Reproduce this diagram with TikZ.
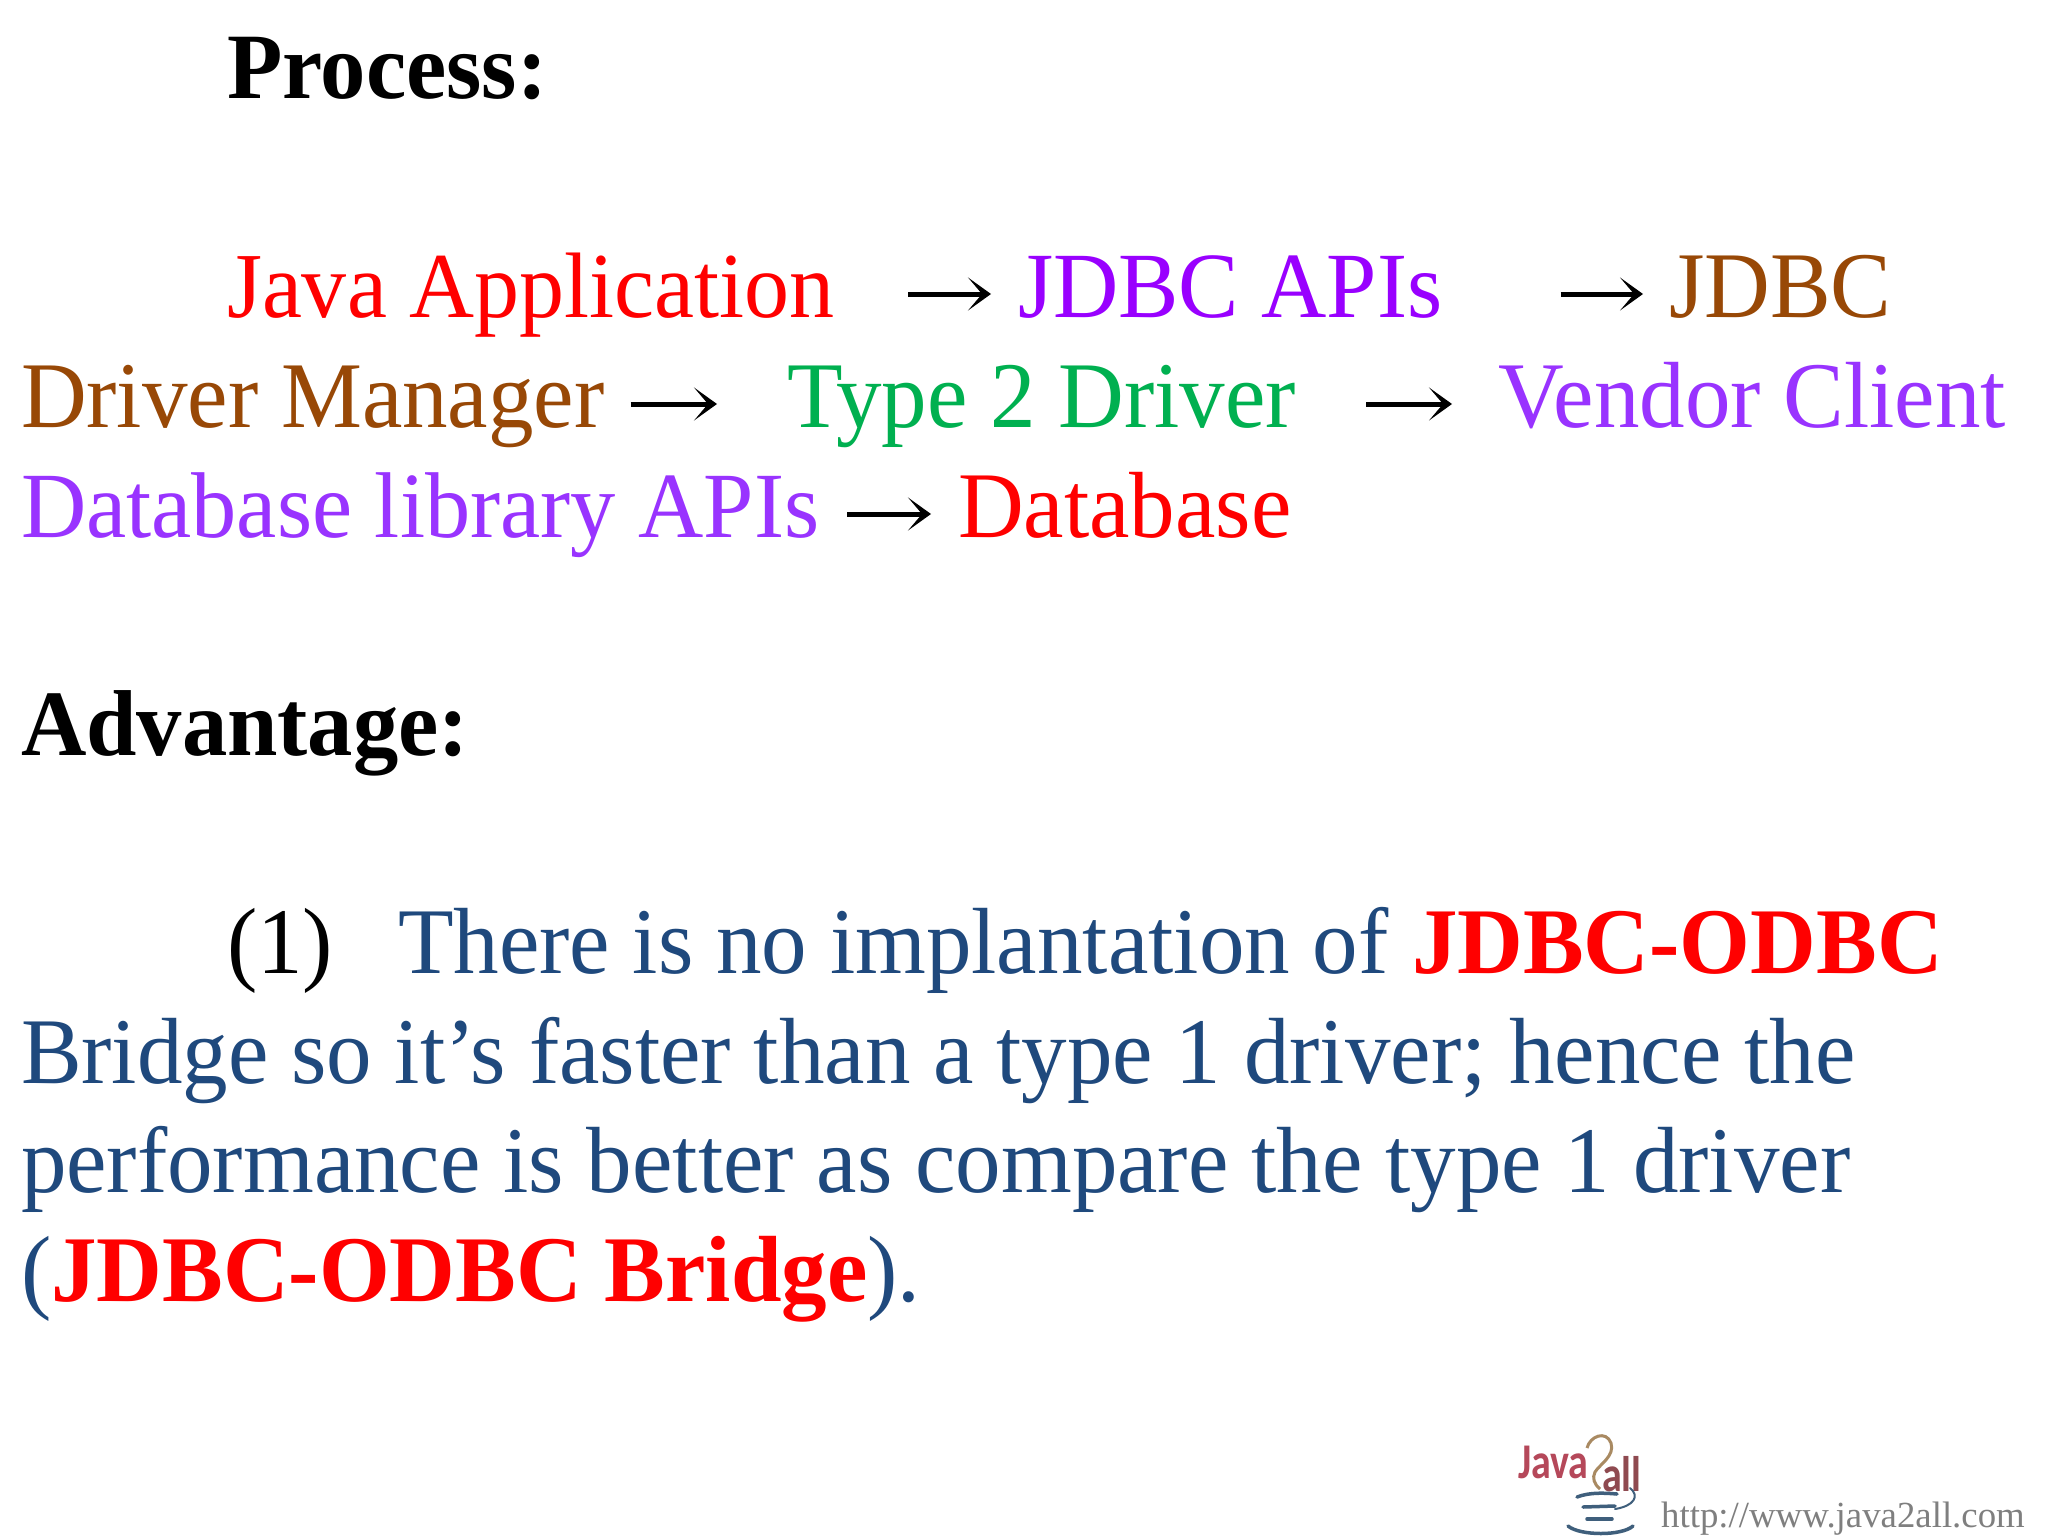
\documentclass[tikz,border=0pt]{standalone}
\usepackage{fontspec}
\usetikzlibrary{arrows.meta}
\setmainfont[FakeStretch=0.968]{Liberation Serif}
\newfontfamily\urlfont{Liberation Serif}
\newfontfamily\logofont[FakeStretch=0.8]{Carlito}
\definecolor{cred}{HTML}{FF0000}
\definecolor{cviolet}{HTML}{9900FF}
\definecolor{cpurple}{HTML}{9933FF}
\definecolor{cbrown}{HTML}{984806}
\definecolor{cgreen}{HTML}{00B050}
\definecolor{cblue}{HTML}{1F497D}
\definecolor{cgrey}{HTML}{7F7F7F}
\definecolor{clogored}{HTML}{B5485A}
\definecolor{clogodark}{HTML}{8F4A50}
\definecolor{clogoblue}{HTML}{3F5F7C}
\definecolor{clogotan}{HTML}{A98A62}
\tikzset{
  txt/.style={anchor=base west,inner sep=0pt,outer sep=0pt,font=\fontsize{94}{110}\selectfont},
  txta/.style={txt,font=\fontsize{93.4}{110}\selectfont},
  head/.style={txt,font=\fontsize{93.6}{110}\selectfont\bfseries,text=black},
  flow/.style={draw=black,line width=5pt,-{Stealth[length=23pt,width=33pt,inset=14pt]}},
  url/.style={anchor=base west,inner sep=0pt,font=\urlfont\fontsize{36.8}{40}\selectfont,text=cgrey},
  logotxt/.style={anchor=base west,inner sep=0pt,outer sep=0pt,font=\logofont\bfseries\fontsize{50}{50}\selectfont,text=clogored},
  cup/.style={draw=clogoblue,line width=3.5pt,line cap=round},
}
\begin{document}
\begin{tikzpicture}[x=1pt,y=-1pt]
\useasboundingbox (0,0) rectangle (2048,1536);
\fill[white] (0,0) rectangle (2048,1536);
\node[head] (process) at (227,99) {Process:};
\node[txt,font=\fontsize{93}{110}\selectfont,text=cred] (javaapp) at (227,317) {Java Application};
\node[txta,text=cviolet] (apis) at (1018,317) {JDBC APIs};
\node[txt,text=cbrown] (jdbc) at (1669,317) {JDBC};
\node[txt,text=cbrown] (dm) at (21,427) {Driver Manager};
\node[txt,text=cgreen] (t2) at (787,427) {Type 2 Driver};
\node[txt,text=cpurple] (vc) at (1498,427) {Vendor Client};
\node[txta,text=cpurple] (dl) at (21,537) {Database library APIs};
\node[txt,text=cred] (db) at (958,537) {Database};
\draw[flow] ([xshift=74pt,yshift=23pt]javaapp.base east) -- ([xshift=-27pt,yshift=23pt]apis.base west);
\draw[flow] ([xshift=118pt,yshift=23pt]apis.base east) -- ([xshift=-26pt,yshift=23pt]jdbc.base west);
\draw[flow] ([xshift=26pt,yshift=23pt]dm.base east) -- ([xshift=-70pt,yshift=23pt]t2.base west);
\draw[flow] ([xshift=70pt,yshift=23pt]t2.base east) -- ([xshift=-46pt,yshift=23pt]vc.base west);
\draw[flow] ([xshift=28pt,yshift=23pt]dl.base east) -- ([xshift=-27pt,yshift=23pt]db.base west);
\node[head] (adv) at (21,755) {Advantage:};
\node[txt,text=black] (one) at (227,973) {(1)};
\node[txt,text=cblue] (p1) at (398,973) {There is no implantation of};
\node[txt,text=cred,font=\fontsize{94}{110}\selectfont\bfseries] (p1b) at (1412,973) {JDBC-ODBC};
\node[txt,text=cblue] (p2) at (21,1083) {Bridge so it’s faster than a type 1 driver; hence the};
\node[txt,text=cblue] (p3) at (21,1192) {performance is better as compare the type 1 driver};
\node[txt,text=cblue] (p4) at (21,1301) {(\textcolor{cred}{\bfseries JDBC-ODBC Bridge}).};
\node[url] (u) at (1661,1527) {http://www.java2all.com};
\node[logotxt] (jv) at (1518,1478) {Java};
\node[logotxt,text=clogodark] (al) at (1602,1491) {all};
\draw[clogotan,line width=3pt] (1587,1448) .. controls (1590,1436) and (1606,1430) .. (1611,1443) .. controls (1615,1456) and (1600,1464) .. (1595,1472) .. controls (1592,1478) and (1594,1484) .. (1600,1489);
\draw[cup] (1577,1497) .. controls (1590,1492) and (1605,1493) .. (1617,1494);
\draw[cup] (1583,1507) -- (1615,1506);
\draw[cup] (1587,1519) -- (1612,1519);
\draw[cup] (1568,1526) .. controls (1580,1536) and (1622,1536) .. (1633,1526);
\draw[cup,line width=2pt] (1630,1488) .. controls (1640,1496) and (1634,1506) .. (1615,1509);
\end{tikzpicture}
\end{document}
